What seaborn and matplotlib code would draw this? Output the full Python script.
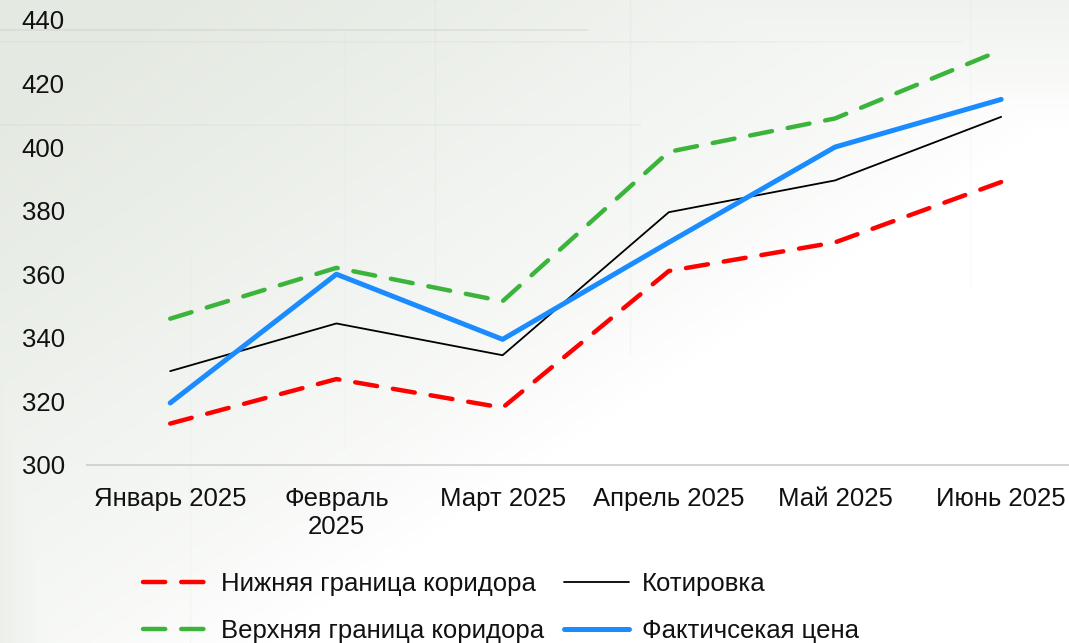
import numpy as np
import pandas as pd
import matplotlib
matplotlib.use("Agg")
import matplotlib.pyplot as plt
import seaborn as sns

months = ["Январь 2025", "Февраль\n2025", "Март 2025", "Апрель 2025", "Май 2025", "Июнь 2025"]
lower = [313, 327, 318, 361, 370, 389]
upper = [346, 362, 351.5, 398.5, 409, 430.5]
quote = [329.5, 344.5, 334.5, 379.5, 389.5, 409.5]
actual = [319.5, 360, 339.5, 370, 400, 415]
names = ["Нижняя граница коридора", "Верхняя граница коридора", "Котировка", "Фактичсекая цена"]
y_ticks = [300, 320, 340, 360, 380, 400, 420, 440]

sns.set_theme(style="white")
plt.rcParams['font.family'] = ['Liberation Sans', 'DejaVu Sans']
FS = 18.5

fig = plt.figure(figsize=(10.69, 6.43), dpi=100)

# background texture (soft greenish-grey fading to white)
bg = fig.add_axes([0, 0, 1, 1], zorder=-10)
h, w = 643, 1069
yy, xx = np.mgrid[0:h, 0:w]
fx = xx / w
fy = yy / h
mask = np.clip(1.15 - fx * 1.0 - fy * 0.9, 0, 1) ** 0.8
mask = np.maximum(mask, np.clip(1 - fy / 0.2, 0, 1) * 0.6)
mask = np.maximum(mask, np.clip(1 - fx / 0.08, 0, 1) * 0.7)
c0 = np.array([1.0, 1.0, 1.0])
c1 = np.array([0.895, 0.915, 0.885])
img = c0[None, None, :] * (1 - mask[..., None]) + c1[None, None, :] * mask[..., None]
bg.imshow(img, aspect='auto', extent=[0, 1, 0, 1], origin='upper')
bg.set_xlim(0, 1)
bg.set_ylim(0, 1)
# faint texture lines
for yv, x1, a in [(1 - 30 / h, 0.55, 0.22), (1 - 42 / h, 0.9, 0.1), (1 - 125 / h, 0.6, 0.1)]:
    bg.plot([0, x1], [yv, yv], color='#a8b5a0', lw=1.2, alpha=a)
for xv, y0, y1, a in [(435 / w, 0.55, 1.0, 0.08), (630 / w, 0.45, 1.0, 0.07), (970 / w, 0.55, 1.0, 0.05),
                      (190 / w, 0.0, 0.6, 0.06), (345 / w, 0.3, 0.95, 0.05)]:
    bg.plot([xv, xv], [y0, y1], color='#a8b5a0', lw=1.0, alpha=a)
bg.axis('off')

ax = fig.add_axes([0.0815, 0.277, 0.925, 0.692])
ax.patch.set_alpha(0)

x = np.arange(len(months))
df = pd.DataFrame({"x": x, "lower": lower, "upper": upper, "quote": quote, "actual": actual})

sns.lineplot(data=df, x="x", y="lower", ax=ax, color="#ff0000", lw=3.2, label=names[0])
sns.lineplot(data=df, x="x", y="upper", ax=ax, color="#3cb43c", lw=3.2, label=names[1])
sns.lineplot(data=df, x="x", y="quote", ax=ax, color="black", lw=1.3, label=names[2])
sns.lineplot(data=df, x="x", y="actual", ax=ax, color="#1a8cff", lw=3.6, label=names[3])
for ln in ax.lines[:2]:
    ln.set_dashes([5, 3.6])
    ln.set_dash_capstyle('round')
for ln in ax.lines:
    ln.set_solid_capstyle('round')

ax.set_xlim(-0.5, 5.45)
ax.set_ylim(300, 440)
ax.set_yticks(y_ticks)
ax.set_xticks(x)
ax.set_xticklabels(months)
ax.tick_params(axis='both', labelsize=FS, colors='#111111', length=0)
ax.tick_params(axis='x', pad=16)
ax.tick_params(axis='y', pad=47)
for lbl in ax.get_yticklabels():
    lbl.set_horizontalalignment('left')
ax.set_xlabel("")
ax.set_ylabel("")
for s in ["top", "right", "left"]:
    ax.spines[s].set_visible(False)
ax.spines["bottom"].set_color("#d4d4d4")
ax.spines["bottom"].set_linewidth(1.5)
ax.grid(False)

handles, labels = ax.get_legend_handles_labels()
leg = fig.legend(handles, labels, loc='upper left', bbox_to_anchor=(143 / 1069, 1 - 572 / 643),
                 bbox_transform=fig.transFigure, borderpad=0, borderaxespad=0,
                 ncol=2, frameon=False, fontsize=FS, handlelength=2.55, handletextpad=0.5,
                 columnspacing=0.75, labelspacing=0.88)
for t in leg.get_texts():
    t.set_color('#111111')
if ax.get_legend():
    ax.get_legend().remove()

fig.savefig("out.png", dpi=100)
